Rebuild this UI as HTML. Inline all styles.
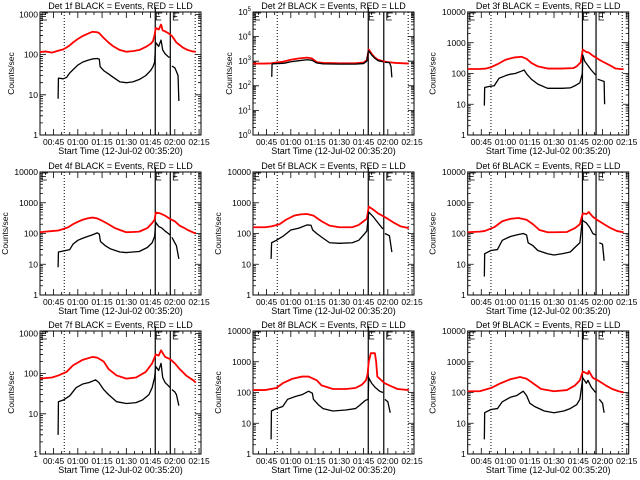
<!DOCTYPE html>
<html><head><meta charset="utf-8"><style>
html,body{margin:0;padding:0;background:#fff}
svg{display:block;font-family:"Liberation Sans",sans-serif}
</style></head><body>
<svg id="chart" width="640" height="480" viewBox="0 0 640 480" xmlns="http://www.w3.org/2000/svg">
<rect width="640" height="480" fill="#fff"/>
</svg>
<script>
const xTickLabels=["00:45","01:00","01:15","01:30","01:45","02:00","02:15"];
const xTickMinutes=[45,60,75,90,105,120,135];
const b1t=[47.8,48,51,53,55,57,60,63,66,69,72,73.3,73.8,76,79,82,86,90,94,98,102,105,106.5,107.5,108.2,110,111.5,112.5,114,116,117,117.6,118.2,120,121,122,122.5];
const b1v=[8,26,25,27,35,42,55,65,72,78,80,77,50,40,33,27,21,20,21,24,30,40,50,65,200,160,230,130,105,88,85,null,52,47,38,30,7];
const r1t=[36.6,40,44,47.8,51,53,55,57,60,63,66,69,72,73.3,76,79,82,86,90,94,98,102,105,106.5,107.5,108.2,110,111.5,112.5,114,116,117,118.2,120,121,122.5,125,128,131,133];
const r1v=[115,120,112,125,135,150,170,200,245,290,330,370,360,340,260,200,160,130,118,122,130,155,185,215,310,460,420,560,400,380,340,320,290,230,200,180,150,130,120,118];
const b2t=[48.2,48.4,52,56,60,65,70,73,76,80,90,100,105,107,108,110,112,114,117,117.6,118.2,121,122,122.5];
const b2v=[230,780,800,830,950,1050,1150,1100,850,780,760,760,800,1000,2700,1800,1300,1050,950,null,900,880,600,220];
const r2t=[36.6,44,48,51,55,60,65,70,73,76,80,90,100,105,107,108.2,110,112,114,117,120,125,130,133];
const r2v=[800,800,820,880,950,1150,1300,1400,1300,920,850,820,820,880,1100,3000,2000,1400,1150,1000,920,850,820,800];
const b3t=[46.9,47.1,50,53,56,60,63,66,70,71.5,73.2,76,80,86,90,95,100,103,106,107.5,107.8,109,111,113,115.7,116.4,117,119,121,121.3];
const b3v=[9,35,38,40,70,85,95,100,120,130,95,65,45,33,33,33,34,40,50,100,400,250,180,130,90,null,65,60,55,10];
const r3t=[36.6,44,48,51,55,60,65,70,73,76,80,86,94,102,104,106.5,107.8,110,111.5,114,116,118,121,125,128,131,133];
const r3v=[140,140,145,160,200,280,330,350,300,220,170,145,145,150,170,230,600,500,480,380,330,280,230,180,145,140,138];
const b4t=[47.8,48,51,55,57,60,63,66,69,72,73.3,74,77,80,86,90,94,98,103,106,107.5,108.2,110,112,114,116,117,117.6,118.2,120,121,122.5];
const b4v=[8,25,27,30,45,60,70,80,90,105,95,55,40,32,25,24,25,26,35,50,80,230,170,150,120,100,90,null,75,50,40,15];
const r4t=[36.6,40,44,48,51,54,57,60,63,66,69,72,75,79,83,86,90,94,98,103,106,107.5,108.2,111,114,117,120,123,126,128,131,133];
const r4v=[110,115,120,125,140,160,200,240,280,310,330,310,260,200,150,130,110,112,115,150,220,280,480,450,380,300,250,180,150,130,110,100];
const b5t=[47.8,48.1,51,55,60,65,70,72.5,73.5,76,80,84,90,98,102,105,107,108.2,111,114,117,117.6,118.2,121,122.5];
const b5v=[15,50,60,80,130,150,190,185,130,100,70,50,48,50,60,90,120,500,350,220,140,null,100,85,25];
const r5t=[36.6,44,48,53,57,62,66,70,74,79,84,90,98,102,105,107,108.2,111,114,117,120,124,128,133];
const r5v=[160,160,170,200,280,380,420,430,380,250,180,160,160,190,250,300,750,600,450,370,300,220,170,150];
const b6t=[46.9,47.1,51,55,58,63,67,71,73,74,77,80,86,90,95,100,104,106,107.5,110,112,114,115.7,116.4,118,120,121];
const b6v=[4,22,28,30,60,80,90,100,90,50,40,28,22,20,22,25,40,50,270,220,160,100,90,null,50,45,13];
const r6t=[36.6,44,47,53,58,63,68,73,77,81,86,90,98,103,106,107.8,110,111.5,114,117,121,125,129,133];
const r6v=[110,115,120,160,250,300,320,280,200,130,110,110,112,150,200,450,430,500,350,270,200,150,120,110];
const b7t=[47.8,48,51,55,59,63,67,71,73,76,79,84,90,96,100,104,106,107.5,108.2,110,111.5,112.5,114,116,117,117.6,118.2,120,121,122.5];
const b7v=[3,20,22,28,45,55,60,70,60,40,30,20,18,19,22,30,45,80,150,120,180,80,60,50,45,null,40,35,30,16];
const r7t=[36.6,44,48,53,57,63,69,72,76,79,84,90,96,102,106,108.2,110,111.5,114,117,120,123,127,131,133];
const r7v=[75,80,90,110,160,220,260,250,200,130,90,75,80,110,180,300,280,380,260,230,180,130,90,70,60];
const b8t=[47.8,48,51,55,58,63,67,71,73.3,74,77,80,86,94,100,103,106,107.8,108.2,110,112,115,117,117.6,118.2,120,121.5];
const b8v=[3,25,30,35,60,75,85,110,95,60,40,30,25,27,30,40,55,60,300,200,150,110,100,null,60,50,22];
const r8t=[36.6,44,51,55,61,67,71,76,79,86,94,100,104,106.5,107.5,108.2,109.5,112,112.8,113.5,116,118,122,126,133];
const r8v=[120,120,140,200,280,330,330,250,170,130,130,140,180,250,400,1000,1900,1900,1000,330,250,200,160,130,120];
const b9t=[46.9,47.1,51,55,58,63,67,71,73,75,78,84,90,96,100,104,106,107.8,110,111,113,115.7,116.4,118,120,121];
const b9v=[3,22,28,30,50,70,80,110,80,45,35,25,22,25,30,40,60,300,200,250,150,100,null,60,45,22];
const r9t=[36.6,44,51,57,63,69,73,77,82,90,98,103,106,107.8,111,111.5,114,117,122,126,130,133];
const r9v=[110,110,140,200,270,320,280,200,130,110,120,170,250,480,400,500,300,250,170,130,110,100];
const solidLines=[[107.9,117.2],[107.9,117.5],[107.6,116],[107.9,117.2],[107.9,117.5],[107.6,116],[107.9,117.2],[107.9,117.5],[107.6,116]];
const dottedLines=[[51.6,132.6],[51.6,132.6],[51,132.2],[51.6,132.6],[51.6,132.6],[51,132.2],[51.6,132.6],[51.6,132.6],[51,132.2]];
const yMaxLog=[3.06,5,4,4,4,4,3.06,4,4];

const NS="http://www.w3.org/2000/svg";
const svg=document.getElementById('chart');
const colX=[40,253,467.7], rowY=[12,172,331], W=161, H=123;
const T0=36.6, T1=136.2;
const series=[[b1t,b1v,r1t,r1v],[b2t,b2v,r2t,r2v],[b3t,b3v,r3t,r3v],[b4t,b4v,r4t,r4v],[b5t,b5v,r5t,r5v],[b6t,b6v,r6t,r6v],[b7t,b7v,r7t,r7v],[b8t,b8v,r8t,r8v],[b9t,b9v,r9t,r9v]];
function mk(tag,attrs,parent){const e=document.createElementNS(NS,tag);for(const k in attrs)e.setAttribute(k,attrs[k]);(parent||svg).appendChild(e);return e;}
for(let p=0;p<9;p++){
  const x0=colX[p%3], y0=rowY[Math.floor(p/3)], x1=x0+W, y1=y0+H, lm=yMaxLog[p];
  const g=mk('g',{});
  
  
  const xs=t=>x0+(t-T0)/(T1-T0)*W;
  const ys=v=>y1-Math.log10(v)/lm*H;
  // frame
  const fr=mk('rect',{x:x0,y:y0,width:W,height:H,fill:'none',stroke:'#000','stroke-width':1},g);
  
  
  // y ticks
  let tk='';
  for(let d=0;d<=Math.floor(lm);d++){
    const y=ys(Math.pow(10,d));
    tk+=`M${x0},${y}h6M${x1},${y}h-6`;
    for(let m=2;m<10;m++){const v=m*Math.pow(10,d);if(Math.log10(v)>lm)break;const yy=ys(v);tk+=`M${x0},${yy}h3M${x1},${yy}h-3`;}
  }
  for(let t=40;t<=T1;t+=5){const x=xs(t);const big=(t%15===0);tk+=`M${x},${y1}v-${big?6:3}M${x},${y0}v${big?6:3}`;}
  const tp=mk('path',{d:tk,stroke:'#000','stroke-width':0.8,fill:'none'},g);
  
  
  // y labels
  for(let d=0;d<=Math.floor(lm);d++){
    const tx=mk('text',{x:x0-2,y:ys(Math.pow(10,d))+3,'font-size':8.5,'text-anchor':'end'},g);
    
    
    if(p===1){tx.textContent='10';const s=mk('tspan',{dy:-4,'font-size':6},tx);s.textContent=String(d);}
    else tx.textContent=String(Math.pow(10,d));
  }
  // x labels
  xTickLabels.forEach((lab,i)=>{
    const tx=mk('text',{x:xs(xTickMinutes[i]),y:y1+10,'font-size':8.5,'text-anchor':'middle'},g);
    
    
    tx.textContent=lab;
  });
  const xt=mk('text',{x:x0+W/2,y:y1+19,'font-size':9,'text-anchor':'middle'},g);
  
  
  xt.textContent='Start Time (12-Jul-02 00:35:20)';
  const lx=(p===1)?x0-21:(lm<4?x0-26:x0-32), ly=y0+H/2;
  const yt=mk('text',{x:lx,y:ly,'font-size':8.5,'text-anchor':'middle',transform:`rotate(-90 ${lx} ${ly})`},g);
  
  
  yt.textContent='Counts/sec';
  const ti=mk('text',{x:x0+W/2,y:y0-3,'font-size':9,'text-anchor':'middle'},g);
  
  
  ti.textContent='Det '+(p+1)+'f BLACK = Events, RED = LLD';
  // vertical lines
  dottedLines[p].forEach(t=>{const l=mk('line',{x1:xs(t),x2:xs(t),y1:y0,y2:y1,stroke:'#000','stroke-width':1,'stroke-dasharray':'1,2'},g);
    
    });
  solidLines[p].forEach((t,i)=>{const l=mk('line',{x1:xs(t),x2:xs(t),y1:y0-(i===0?5:0),y2:y1,stroke:'#000','stroke-width':1.2},g);
    
    });
  // bracket markers
  const bx=[x0+2,xs(solidLines[p][0])+1,xs(solidLines[p][1])+3];
  let bd='';bx.forEach(x=>{bd+=`M${x+6},${y0+1}H${x}V${y0+8}H${x+5}M${x},${y0+4.5}H${x+4}`;});
  const bp=mk('path',{d:bd,stroke:'#000','stroke-width':0.8,fill:'none'},g);
  
  
  // series
  const [bt,bv,rt,rv]=series[p];
  function pathOf(ts,vs){let d='',pen=false;for(let i=0;i<ts.length;i++){if(vs[i]==null){pen=false;continue;}d+=(pen?'L':'M')+xs(ts[i]).toFixed(2)+','+ys(vs[i]).toFixed(2);pen=true;}return d;}
  const rl=mk('path',{d:pathOf(rt,rv),stroke:'#ff0000','stroke-width':1.8,fill:'none','stroke-linejoin':'round'},g);
  
  
  const bl=mk('path',{d:pathOf(bt,bv),stroke:'#000','stroke-width':1.3,fill:'none','stroke-linejoin':'round'},g);
  
  
}
</script>
</body></html>
